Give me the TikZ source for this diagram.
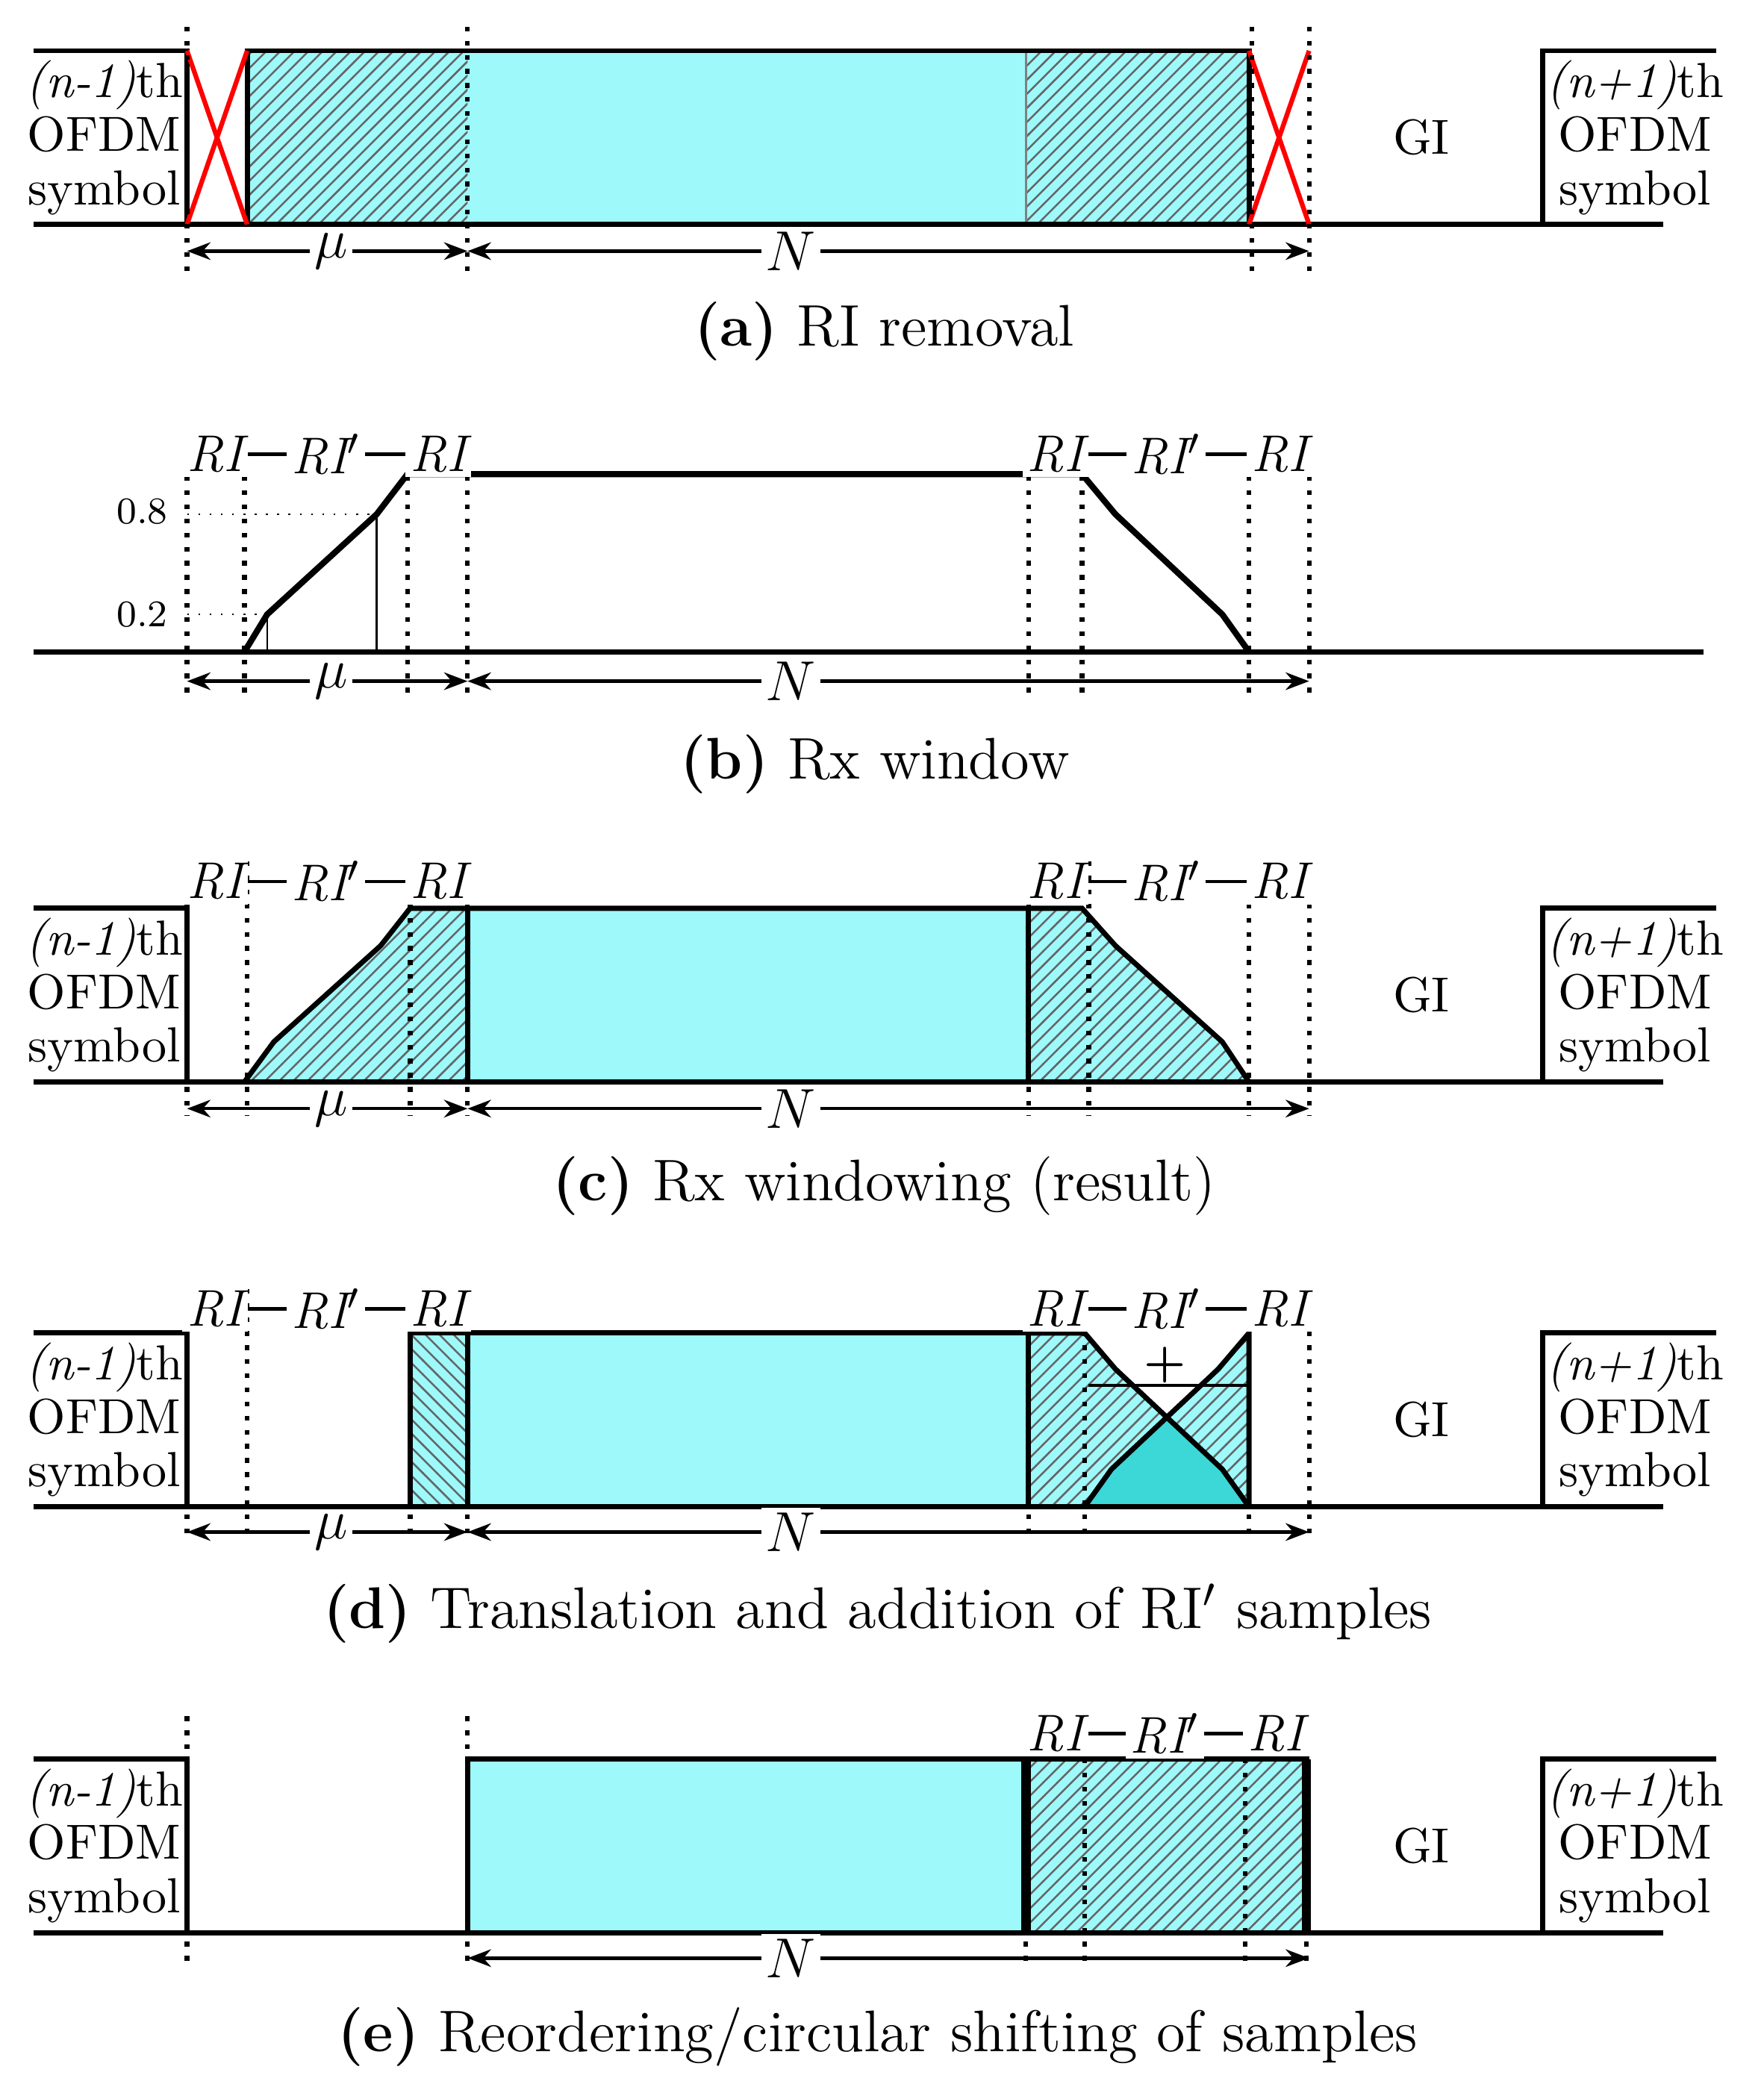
\documentclass[tikz,border=0pt]{standalone}
\usetikzlibrary{patterns,arrows.meta}
\definecolor{cy}{RGB}{158,250,250}
\definecolor{cyd}{RGB}{60,215,215}
\begin{document}
\begin{tikzpicture}[x=0.01cm,y=-0.01cm,
  sym/.style={draw=black,line width=1.1pt},
  dotl/.style={dotted,line width=1pt},
  dim/.style={{Stealth[length=5pt]}-{Stealth[length=5pt]},line width=0.7pt},
  lab/.style={font=\fontsize{11}{13}\selectfont\itshape,fill=white,inner sep=1pt},
  dimlab/.style={font=\fontsize{12}{13}\selectfont,fill=white,inner sep=1pt},
  txt/.style={align=center,font=\fontsize{10.5}{11.4}\selectfont},
  captxt/.style={font=\fontsize{12.5}{14}\selectfont},
  hat/.style={pattern=north east lines,pattern color=black!60},
  redx/.style={draw=red,line width=1pt}]
\useasboundingbox (0,0) rectangle (1320,1567);
\newcommand\symframe[2]{%
  \draw[sym] (25,#1) -- (140,#1) -- (140,#2);
  \draw[sym] (25,#2) -- (1245,#2);
  \draw[sym] (1155,#2) -- (1155,#1) -- (1285,#1);
  \node[txt] at (78,{(#1+#2)/2}) {\textit{(n-1)}th\\OFDM\\symbol};
  \node[txt] at (1224,{(#1+#2)/2}) {\textit{(n+1)}th\\OFDM\\symbol};
  \node[txt] at (1064,{(#1+#2)/2}) {GI};}
\newcommand\rilabels[1]{%
  \draw[line width=0.7pt] (140,#1) -- (350,#1);
  \draw[line width=0.7pt] (770,#1) -- (980,#1);
  \node[lab] at (161,#1) {RI};
  \node[lab] at (244,#1) {RI$'$};
  \node[lab] at (328,#1) {RI};
  \node[lab] at (790,#1) {RI};
  \node[lab] at (873,#1) {RI$'$};
  \node[lab] at (958,#1) {RI};}
% ---------- (a)
\fill[cy] (185,38) rectangle (935,168);
\fill[hat] (185,38) rectangle (350,168);
\fill[hat] (768,38) rectangle (935,168);
\draw[black!50,line width=0.4pt] (768,38) -- (768,168);
\draw[sym] (185,38) rectangle (935,168);
\symframe{38}{168}
\draw[redx] (140,168) -- (185,38); \draw[redx] (140,38) -- (185,168);
\draw[redx] (935,168) -- (980,38); \draw[redx] (935,38) -- (980,168);
\foreach \x in {140,350,937,980} \draw[dotl] (\x,20) -- (\x,205);
\draw[dim] (140,188) -- (350,188); \draw[dim] (350,188) -- (980,188);
\node[dimlab] at (248,188) {$\mu$}; \node[dimlab] at (592,188) {$N$};
\node[captxt] (ca) at (662,248) {\textbf{(a)} RI removal};
% ---------- (b)
\draw[sym] (25,488) -- (1275,488);
\foreach \x in {140,183,305,350,770,810,935,980} \draw[dotl] (\x,325) -- (\x,520);
\draw[line width=0.4pt,dotted] (140,385) -- (282,385);
\draw[line width=0.4pt,dotted] (140,460) -- (200,460);
\draw[line width=0.4pt] (282,385) -- (282,488);
\draw[line width=0.4pt] (200,460) -- (200,488);
\node[font=\fontsize{8}{9}\selectfont,anchor=east] at (138,383) {0.8};
\node[font=\fontsize{8}{9}\selectfont,anchor=east] at (138,460) {0.2};
\draw[line width=1.3pt] (183,488) -- (200,460) -- (282,385) -- (305,355) -- (810,355) -- (835,385) -- (915,460) -- (935,488);
\rilabels{340}
\draw[dim] (140,510) -- (350,510); \draw[dim] (350,510) -- (980,510);
\node[dimlab] at (248,510) {$\mu$}; \node[dimlab] at (592,510) {$N$};
\node[captxt] (cb) at (655,572) {\textbf{(b)} Rx window};
% ---------- (c)
\fill[cy] (183,810) -- (205,780) -- (285,708) -- (307,680) -- (350,680) -- (350,810) -- cycle;
\fill[hat] (183,810) -- (205,780) -- (285,708) -- (307,680) -- (350,680) -- (350,810) -- cycle;
\fill[cy] (350,680) rectangle (770,810);
\fill[cy] (770,680) -- (810,680) -- (835,708) -- (915,780) -- (935,810) -- (770,810) -- cycle;
\fill[hat] (770,680) -- (810,680) -- (835,708) -- (915,780) -- (935,810) -- (770,810) -- cycle;
\draw[sym] (183,810) -- (205,780) -- (285,708) -- (307,680) -- (810,680) -- (835,708) -- (915,780) -- (935,810);
\draw[sym] (350,680) -- (350,810); \draw[sym] (770,680) -- (770,810);
\symframe{680}{810}
\foreach \x in {140,185,307,350,770,815,935,980} \draw[dotl] (\x,645) -- (\x,835);
\rilabels{660}
\draw[dim] (140,830) -- (350,830); \draw[dim] (350,830) -- (980,830);
\node[dimlab] at (248,830) {$\mu$}; \node[dimlab] at (592,830) {$N$};
\node[captxt] (cc) at (662,888) {\textbf{(c)} Rx windowing (result)};
% ---------- (d)
\fill[cy] (307,998) rectangle (770,1128);
\fill[pattern=north west lines,pattern color=black!60] (307,998) rectangle (350,1128);
\fill[cy] (770,998) -- (812,998) -- (873,1062) -- (935,998) -- (935,1128) -- (770,1128) -- cycle;
\fill[hat] (770,998) -- (812,998) -- (873,1062) -- (935,998) -- (935,1128) -- (770,1128) -- cycle;
\fill[cyd] (812,1128) -- (832,1100) -- (873,1062) -- (915,1100) -- (935,1128) -- cycle;
\draw[sym] (307,998) rectangle (770,1128);
\draw[sym] (350,998) -- (350,1128);
\draw[sym] (770,998) -- (812,998) -- (835,1025) -- (915,1100) -- (935,1128);
\draw[sym] (812,1128) -- (832,1100) -- (912,1025) -- (935,998) -- (935,1128);
\draw[line width=0.6pt] (815,1037) -- (935,1037);
\node[font=\fontsize{10}{11}\selectfont\bfseries] at (872,1022) {+};
\symframe{998}{1128}
\foreach \x in {140,185,307,350,770,812,935,980} \draw[dotl] (\x,965) -- (\x,1150);
\rilabels{980}
\draw[dim] (140,1147) -- (350,1147); \draw[dim] (350,1147) -- (980,1147);
\node[dimlab] at (248,1147) {$\mu$}; \node[dimlab] at (592,1147) {$N$};
\node[captxt] (cd) at (657,1208) {\textbf{(d)} Translation and addition of RI$'$ samples};
% ---------- (e)
\fill[cy] (350,1317) rectangle (978,1447);
\fill[hat] (768,1317) rectangle (978,1447);
\draw[sym] (350,1317) rectangle (978,1447);
\draw[line width=2pt] (768,1317) -- (768,1447);
\draw[line width=2pt] (978,1317) -- (978,1447);
\symframe{1317}{1447}
\foreach \x in {140,350,768,812,932,978} \draw[dotl] (\x,1285) -- (\x,1468);
\draw[line width=0.7pt] (768,1298) -- (978,1298);
\node[lab] at (790,1298) {RI};
\node[lab] at (872,1298) {RI$'$};
\node[lab] at (955,1298) {RI};
\draw[dim] (350,1466) -- (980,1466);
\node[dimlab] at (592,1466) {$N$};
\node[captxt] (ce) at (657,1525) {\textbf{(e)} Reordering/circular shifting of samples};
\end{tikzpicture}
\end{document}
